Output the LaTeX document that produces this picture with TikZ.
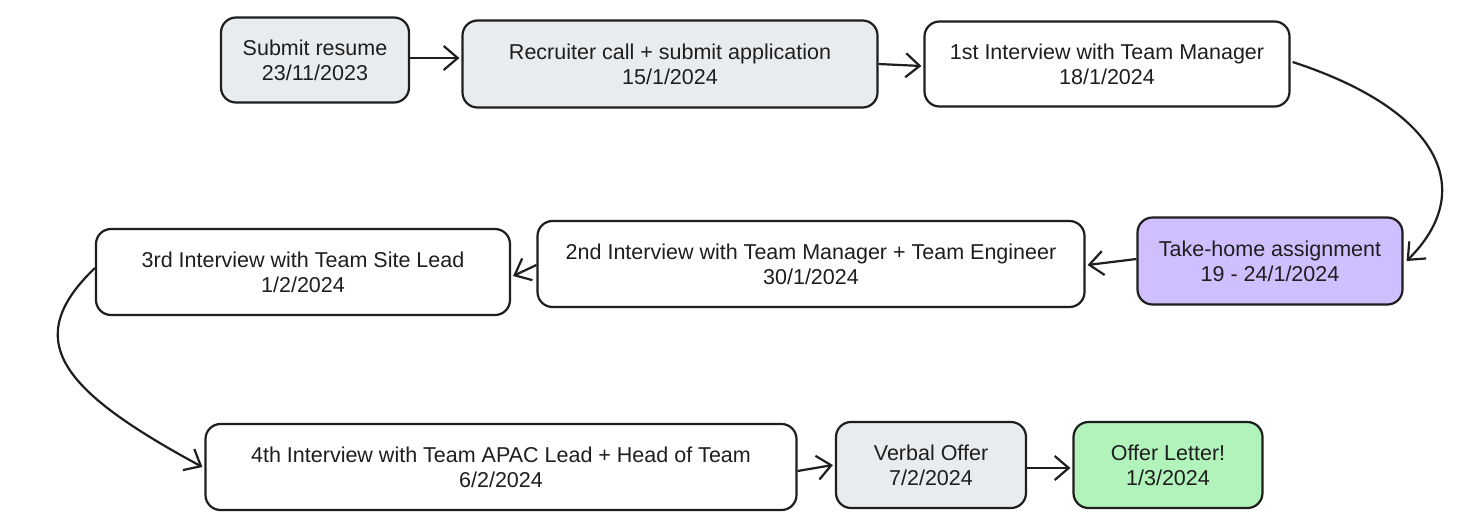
\documentclass[tikz,border=0pt]{standalone}
\usepackage{fontspec}
\setmainfont{Liberation Sans}
\usetikzlibrary{arrows.meta}
\definecolor{boxgrey}{HTML}{E9ECEF}
\definecolor{boxpurple}{HTML}{D0BFFF}
\definecolor{boxgreen}{HTML}{B2F2BB}
\definecolor{ink}{HTML}{1E1E1E}
\tikzset{
  stepbox/.style={draw=ink, line width=2.2pt, rounded corners=15pt, align=center,
    font=\fontsize{21.5}{25}\selectfont, text=ink, inner sep=0pt},
  link/.style={draw=ink, line width=2.2pt, -{Straight Barb[length=14pt,width=24pt,line width=2.2pt]}}
}
\begin{document}
\begin{tikzpicture}[x=1pt,y=-1pt]
\useasboundingbox[fill=white] (0,0) rectangle (1478,528);
\node[stepbox, fill=boxgrey, minimum width=188pt, minimum height=85pt] (a) at (315,60) {Submit resume\\23/11/2023};
\node[stepbox, fill=boxgrey, minimum width=415pt, minimum height=87pt] (b) at (670,64) {Recruiter call + submit application\\15/1/2024};
\node[stepbox, fill=white, minimum width=365pt, minimum height=85pt] (c) at (1107,64) {1st Interview with Team Manager\\18/1/2024};
\node[stepbox, fill=boxpurple, minimum width=265pt, minimum height=87pt] (d) at (1270,261) {Take-home assignment\\19 - 24/1/2024};
\node[stepbox, fill=white, minimum width=547pt, minimum height=86pt] (e) at (811,264) {2nd Interview with Team Manager + Team Engineer\\30/1/2024};
\node[stepbox, fill=white, minimum width=414pt, minimum height=86pt] (f) at (303,272) {3rd Interview with Team Site Lead\\1/2/2024};
\node[stepbox, fill=white, minimum width=591pt, minimum height=86pt] (g) at (501,467) {4th Interview with Team APAC Lead + Head of Team\\6/2/2024};
\node[stepbox, fill=boxgrey, minimum width=190pt, minimum height=86pt] (h) at (931,465) {Verbal Offer\\7/2/2024};
\node[stepbox, fill=boxgreen, minimum width=189pt, minimum height=86pt] (i) at (1168,465) {Offer Letter!\\1/3/2024};

\draw[link] ([yshift=2pt]a.east) -- ([xshift=-2pt,yshift=6pt]b.west);
\draw[link] ([yshift=0pt]b.east) -- ([xshift=-2pt,yshift=-2pt]c.west);
\draw[link] ([xshift=2pt,yshift=2pt]c.east) .. controls (1440,110) and (1478,190) .. ([xshift=3pt]d.east);
\draw[link] ([yshift=2pt]d.west) -- ([xshift=2pt,yshift=-1pt]e.east);
\draw[link] ([yshift=-1pt]e.west) -- ([xshift=2pt,yshift=-4pt]f.east);
\draw[link] ([yshift=4pt]f.west) .. controls (20,340) and (60,390) .. ([xshift=-2pt]g.west);
\draw[link] ([yshift=-4pt]g.east) -- ([xshift=-2pt]h.west);
\draw[link] ([yshift=-3pt]h.east) -- ([xshift=-2pt,yshift=-3pt]i.west);
\end{tikzpicture}
\end{document}
